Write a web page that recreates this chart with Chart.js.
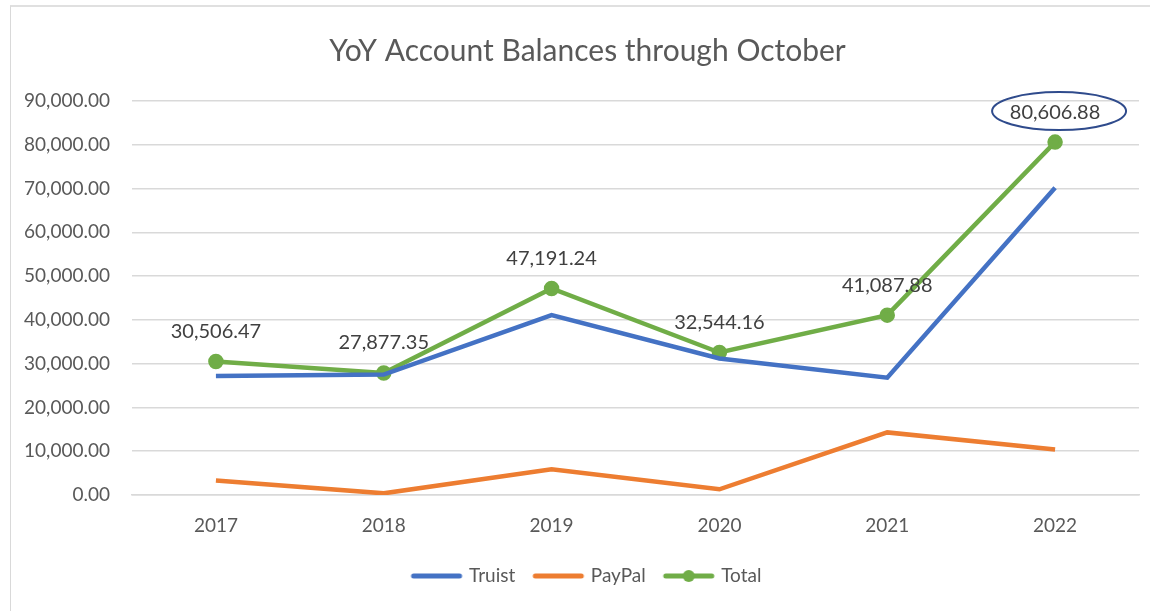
<!DOCTYPE html>
<html>
<head>
<meta charset="utf-8">
<script src="https://cdn.jsdelivr.net/npm/chart.js@4"></script>
<style>
  html, body { margin: 0; padding: 0; background: #fff; }
  #wrap { position: relative; width: 1150px; height: 611px; }
  #frame { position: absolute; left: 10px; top: 5px; right: 0; bottom: 0; border-left: 1px solid #d9d9d9; border-top: 2px solid #e0e0e0; }
</style>
</head>
<body>
<div id="wrap">
  <div id="frame"></div>
  <canvas id="chart" width="1150" height="611"></canvas>
</div>
<script>
const years = ['2017', '2018', '2019', '2020', '2021', '2022'];
const truist = [27200, 27500, 41100, 31200, 26800, 70200];
const paypal = [3300, 380, 5870, 1300, 14300, 10400];
const total = [30506.47, 27877.35, 47191.24, 32544.16, 41087.88, 80606.88];
const yTicks = [0, 10000, 20000, 30000, 40000, 50000, 60000, 70000, 80000, 90000];

const BLUE = '#4472C4';
const ORANGE = '#ED7D31';
const GREEN = '#70AD47';
const TEXT = '#595959';
const FONT = 'Lato, "Open Sans", sans-serif';

function legendIcon(color, dot) {
  const c = document.createElement('canvas');
  c.width = 54; c.height = 14;
  const g = c.getContext('2d');
  g.strokeStyle = color;
  g.lineWidth = 5;
  g.lineCap = 'round';
  g.beginPath();
  g.moveTo(4, 7);
  g.lineTo(50, 7);
  g.stroke();
  if (dot) {
    g.fillStyle = color;
    g.beginPath();
    g.arc(27, 7, 6, 0, Math.PI * 2);
    g.fill();
  }
  return c;
}

const fmt = v => v.toLocaleString('en-US', { minimumFractionDigits: 2, maximumFractionDigits: 2 });

// title and legend sit a little right of the canvas centre in the original
const shiftBlocks = {
  id: 'shiftBlocks',
  afterLayout(chart) {
    const dx = 12;
    [chart.titleBlock, chart.legend].forEach(b => {
      if (b) { b.left += dx; b.right += dx; }
    });
  }
};

// labels above the Total points, with a ring round the last one
const totalLabels = {
  id: 'totalLabels',
  afterDatasetsDraw(chart) {
    const ctx = chart.ctx;
    const meta = chart.getDatasetMeta(2);
    ctx.save();
    ctx.font = '20px ' + FONT;
    ctx.fillStyle = '#404040';
    ctx.textAlign = 'center';
    ctx.textBaseline = 'middle';
    meta.data.forEach((pt, i) => {
      ctx.fillText(fmt(total[i]), pt.x, pt.y - 30);
    });
    const last = meta.data[meta.data.length - 1];
    ctx.strokeStyle = '#2F4B8C';
    ctx.lineWidth = 2;
    ctx.beginPath();
    ctx.ellipse(last.x + 4, last.y - 31, 67, 19, 0, 0, Math.PI * 2);
    ctx.stroke();
    ctx.restore();
  }
};

new Chart(document.getElementById('chart'), {
  type: 'line',
  data: {
    labels: years,
    datasets: [
      { label: 'Truist', data: truist, borderColor: BLUE, backgroundColor: BLUE, borderWidth: 4.5, pointRadius: 0, tension: 0, pointStyle: legendIcon(BLUE, false) },
      { label: 'PayPal', data: paypal, borderColor: ORANGE, backgroundColor: ORANGE, borderWidth: 4.5, pointRadius: 0, tension: 0, pointStyle: legendIcon(ORANGE, false) },
      { label: 'Total', data: total, borderColor: GREEN, backgroundColor: GREEN, borderWidth: 4.5, pointRadius: 5.5, pointHoverRadius: 5.5, tension: 0, pointStyle: 'circle' }
    ]
  },
  options: {
    responsive: false,
    animation: false,
    layout: { padding: { left: 12, right: 11, top: 6, bottom: 15.5 } },
    plugins: {
      title: {
        display: true,
        text: 'YoY Account Balances through October',
        color: TEXT,
        font: { family: FONT, size: 30, weight: 'normal' },
        padding: { top: 27, bottom: 32 }
      },
      legend: {
        position: 'bottom',
        labels: {
          color: TEXT,
          font: { family: FONT, size: 19 },
          usePointStyle: true,
          pointStyleWidth: 46,
          padding: 20,
          generateLabels(chart) {
            return chart.data.datasets.map((ds, i) => ({
              text: ds.label,
              fontColor: TEXT,
              pointStyle: i === 2 ? legendIcon(GREEN, true) : ds.pointStyle,
              datasetIndex: i,
              hidden: false,
              lineWidth: 0
            }));
          }
        }
      },
      tooltip: { enabled: false }
    },
    scales: {
      x: {
        offset: true,
        grid: { display: false, drawTicks: false },
        border: { color: '#d9d9d9', width: 1.5 },
        ticks: { color: TEXT, font: { family: FONT, size: 19 }, padding: 19 },
        afterFit(scale) { scale.height = 51.5; }
      },
      y: {
        min: 0,
        max: 90000,
        afterBuildTicks(scale) { scale.ticks = yTicks.map(v => ({ value: v })); },
        grid: { color: '#d9d9d9', lineWidth: 1.5, drawTicks: false },
        border: { display: false },
        ticks: { color: TEXT, font: { family: FONT, size: 19 }, padding: 22, callback: v => fmt(v) },
        afterFit(scale) { scale.width = 120; }
      }
    }
  },
  plugins: [shiftBlocks, totalLabels]
});
</script>
</body>
</html>
